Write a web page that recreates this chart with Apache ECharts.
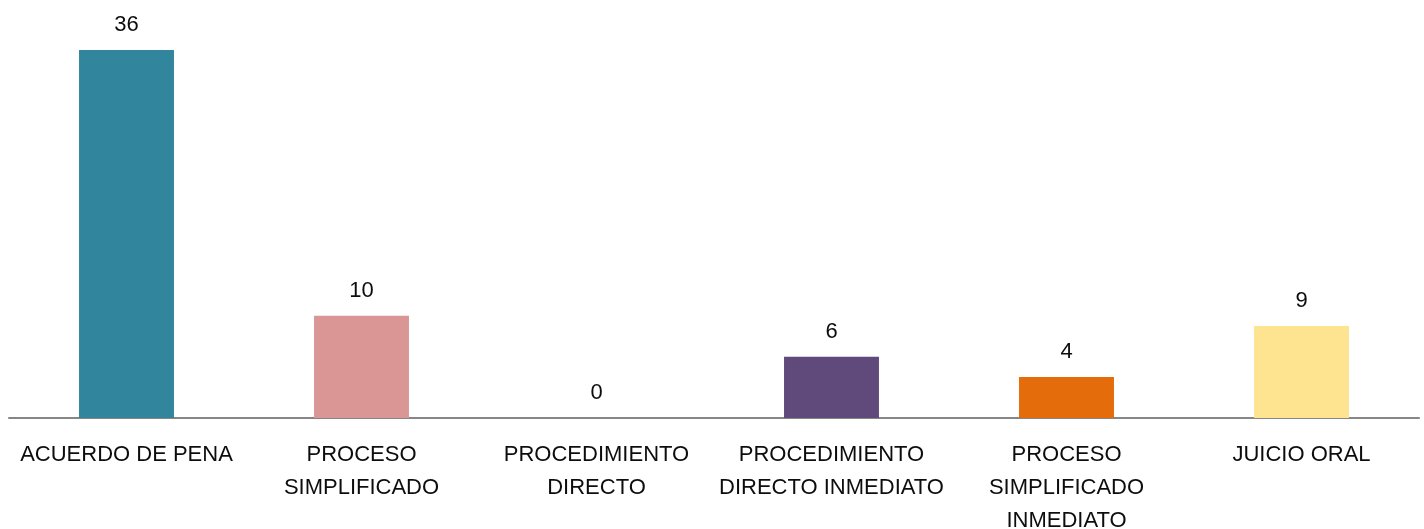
<!DOCTYPE html>
<html>
<head>
<meta charset="utf-8">
<script src="https://cdn.jsdelivr.net/npm/echarts@6/dist/echarts.min.js"></script>
<style>
  html, body { margin: 0; padding: 0; background: #fff; }
  #main { width: 1424px; height: 529px; }
</style>
</head>
<body>
<div id="main"></div>
<script>
// datos
var categorias = [
  "ACUERDO DE PENA",
  "PROCESO\nSIMPLIFICADO",
  "PROCEDIMIENTO\nDIRECTO",
  "PROCEDIMIENTO\nDIRECTO INMEDIATO",
  "PROCESO\nSIMPLIFICADO\nINMEDIATO",
  "JUICIO ORAL"
];
var valores = [36, 10, 0, 6, 4, 9];
var colores = ["#31859C", "#D99694", "#9BBB59", "#604A7B", "#E46C0A", "#FEE391"];

var fuente = "'Liberation Sans', Arial, sans-serif";

var myChart = echarts.init(document.getElementById("main"));
var option = {
  animation: false,
  grid: { left: 9, right: 5, top: 50, bottom: 111, outerBoundsMode: "none", containLabel: false },
  xAxis: {
    type: "category",
    data: categorias,
    axisLine: { lineStyle: { color: "#868686", width: 2 } },
    axisTick: { show: false },
    axisLabel: {
      interval: 0,
      color: "#0d0d0d",
      fontFamily: fuente,
      fontSize: 22,
      lineHeight: 33,
      margin: 20
    }
  },
  yAxis: {
    type: "value",
    min: 0,
    max: 36,
    show: false,
    splitLine: { show: false }
  },
  series: [
    {
      type: "bar",
      barWidth: "40.4%",
      data: valores.map(function (v, i) {
        return { value: v, itemStyle: { color: colores[i] } };
      }),
      label: {
        show: true,
        position: "top",
        distance: 14,
        color: "#0d0d0d",
        fontFamily: fuente,
        fontSize: 22
      }
    }
  ]
};
option && myChart.setOption(option);
</script>
</body>
</html>
